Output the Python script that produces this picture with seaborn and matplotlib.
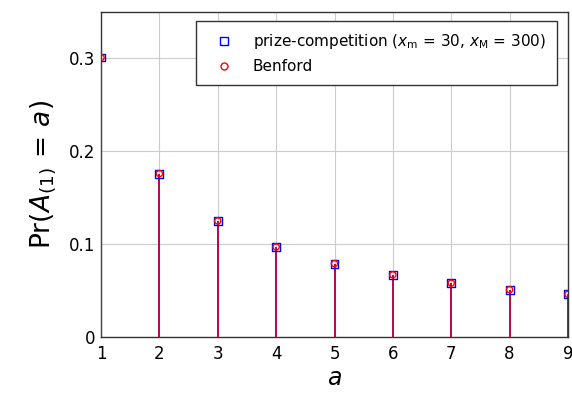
import numpy as np
import pandas as pd
import matplotlib
matplotlib.use("Agg")
import matplotlib.pyplot as plt
import seaborn as sns
from matplotlib.lines import Line2D

digits = [1, 2, 3, 4, 5, 6, 7, 8, 9]
prize_competition = [0.301, 0.176, 0.125, 0.097, 0.079, 0.067, 0.058, 0.051, 0.046]
benford = [0.301, 0.176, 0.125, 0.097, 0.079, 0.067, 0.058, 0.051, 0.046]
y_ticks = [0, 0.1, 0.2, 0.3]
y_tick_labels = ["0", "0.1", "0.2", "0.3"]

sns.set_style("white")
plt.rcParams["font.family"] = ["DejaVu Sans"]
plt.rcParams["mathtext.fontset"] = "dejavusans"
plt.rcParams["text.color"] = "black"
plt.rcParams["axes.labelcolor"] = "black"
plt.rcParams["xtick.color"] = "black"
plt.rcParams["ytick.color"] = "black"

df = pd.DataFrame({"a": digits, "prize": prize_competition, "benford": benford})

fig = plt.figure(figsize=(5.72, 3.95), dpi=100)
ax = fig.add_axes([0.1766, 0.1468, 0.8164, 0.8228])

# stems
ax.vlines(df["a"], 0, df["prize"], color="blue", lw=1.2, zorder=2)
ax.vlines(df["a"], 0, df["benford"], color="red", lw=1.1, alpha=0.88, zorder=3)

sns.scatterplot(data=df, x="a", y="prize", marker="s", s=32, facecolor="none",
                edgecolor="blue", linewidth=1.0, ax=ax, zorder=4)
sns.scatterplot(data=df, x="a", y="benford", marker="o", s=20, facecolor="none",
                edgecolor="red", linewidth=1.0, ax=ax, zorder=5)

ax.set_xlim(1, 9)
ax.set_ylim(0, 0.35)
ax.set_xticks(digits)
ax.set_yticks(y_ticks)
ax.set_yticklabels(y_tick_labels)
ax.grid(True, color="#cccccc", lw=0.8)
ax.set_axisbelow(True)
for sp in ax.spines.values():
    sp.set_color("#333333")
    sp.set_linewidth(1.0)
ax.tick_params(axis="both", direction="in", length=4, labelsize=12, pad=4)
ax.tick_params(axis="x", pad=6)

ax.set_xlabel(r"$a$", fontsize=17, labelpad=2)
ax.set_ylabel(r"$\mathrm{Pr}(A_{(1)}\,=\,a)$", fontsize=19, labelpad=8)

handles = [
    Line2D([], [], ls="none", marker="s", markersize=6, markerfacecolor="none",
           markeredgecolor="blue", markeredgewidth=1.0),
    Line2D([], [], ls="none", marker="o", markersize=5, markerfacecolor="none",
           markeredgecolor="red", markeredgewidth=1.0),
]
labels = [r"prize-competition ($x_\mathrm{m}$ = 30, $x_\mathrm{M}$ = 300)", "Benford"]
leg = ax.legend(handles, labels, loc="upper right", fontsize=11, frameon=True,
                fancybox=False, edgecolor="#333333", framealpha=1,
                borderpad=0.7, handletextpad=0.8, labelspacing=0.55,
                handlelength=2.2, bbox_to_anchor=(0.992, 0.995))
leg.get_frame().set_linewidth(1.0)

fig.savefig("out.png", dpi=100)
